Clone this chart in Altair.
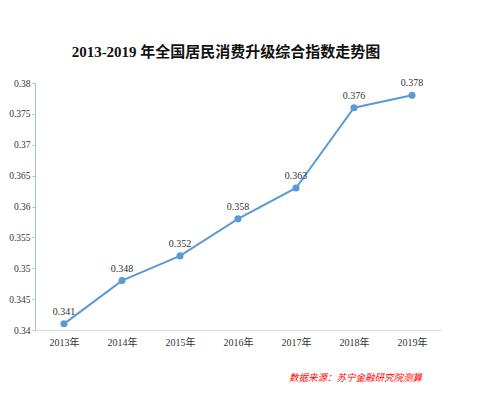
import altair as alt
import pandas as pd

years = ["2013年", "2014年", "2015年", "2016年", "2017年", "2018年", "2019年"]
values = [0.341, 0.348, 0.352, 0.358, 0.363, 0.376, 0.378]
y_ticks = [0.34, 0.345, 0.35, 0.355, 0.36, 0.365, 0.37, 0.375, 0.38]

df = pd.DataFrame({"year": years, "value": values})
src = pd.DataFrame({"t": ["数据来源：苏宁金融研究院测算"]})

FONT = "Liberation Serif, Noto Sans CJK SC"
LINE = "#5B9BD5"

x = alt.X("year:N", sort=years, title=None,
          scale=alt.Scale(paddingInner=0, paddingOuter=0.5),
          axis=alt.Axis(labelAngle=0, labelFont=FONT, labelFontSize=10, labelColor="#333333",
                        domainColor="#D9D9D9", ticks=False, labelPadding=7))
y = alt.Y("value:Q", title=None,
          scale=alt.Scale(domain=[0.34, 0.38], nice=False, zero=False),
          axis=alt.Axis(values=y_ticks, format=".3~f", grid=False, labelFont=FONT,
                        labelFontSize=9.5, labelColor="#333333", domainColor="#9DC3E6",
                        tickColor="#9DC3E6", tickSize=3, labelPadding=2))

base = alt.Chart(df).encode(x=x, y=y)
line = base.mark_line(color=LINE, strokeWidth=2)
pts = base.mark_point(color=LINE, filled=True, size=50, opacity=1)
labels = base.mark_text(dy=-12, font=FONT, fontSize=10, color="#333333").encode(
    text=alt.Text("value:Q", format=".3f"))

source = alt.Chart(src).mark_text(font="Noto Sans CJK SC", fontSize=9.5, fontStyle="italic",
                                  color="#FF0000", align="right", baseline="middle").encode(
    text="t:N", x=alt.value(387), y=alt.value(295))

chart = alt.layer(line, pts, labels, source).properties(
    width=406, height=247,
    title=alt.TitleParams("2013-2019 年全国居民消费升级综合指数走势图", font=FONT,
                          fontSize=15, fontWeight="bold", color="#111111",
                          anchor="middle", dx=-12, offset=18),
    autosize=alt.AutoSizeParams(type="none"),
    padding={"left": 27, "top": 75, "right": 51, "bottom": 58},
).configure_view(stroke=None)

chart.save("out.html", embed_options={"renderer": "svg", "actions": False})
